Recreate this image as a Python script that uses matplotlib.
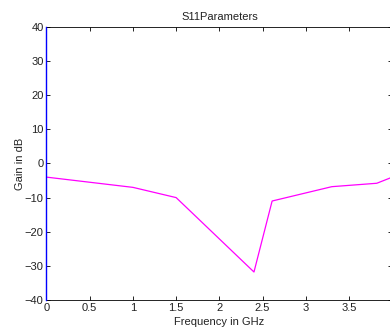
import matplotlib
matplotlib.use('Agg')
import matplotlib.pyplot as plt

plt.rcParams['font.family'] = ['Liberation Sans', 'DejaVu Sans']
plt.rcParams['font.size'] = 8

freq = [0, 1.0, 1.5, 2.4, 2.61, 3.3, 3.82, 4.0]
gain = [-4.0, -7.0, -10.0, -31.8, -11.0, -6.8, -5.8, -4.0]
xticks = [0, 0.5, 1, 1.5, 2, 2.5, 3, 3.5]
yticks = [-40, -30, -20, -10, 0, 10, 20, 30, 40]

fig = plt.figure(figsize=(3.9, 3.27), dpi=100)
ax = fig.add_axes([0.119, 0.0826, 0.887, 0.835])

ax.plot([0, 0], [-40, 40], color='#0000ff', lw=1.0, clip_on=False, zorder=3)
ax.plot(freq, gain, color='#ff00ff', lw=0.9)

ax.set_xlim(0, 4)
ax.set_ylim(-40, 40)
ax.set_xticks(xticks)
ax.set_xticklabels(['0', '0.5', '1', '1.5', '2', '2.5', '3', '3.5'])
ax.set_yticks(yticks)
ax.tick_params(direction='in', top=True, right=True, length=3, width=0.6, pad=2,
               labelcolor='#222222')
for s in ax.spines.values():
    s.set_linewidth(0.6)

ax.set_xlabel('Frequency in GHz', labelpad=3, color='#222222')
ax.set_ylabel('Gain in dB', labelpad=0, color='#222222')
ax.set_title('S11Parameters', fontsize=8, pad=5, color='#222222')

fig.savefig('out.png', dpi=100)
